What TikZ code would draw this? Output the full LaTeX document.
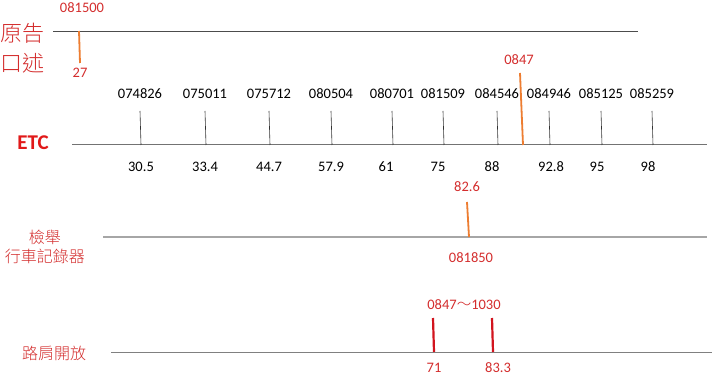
\documentclass[tikz,border=0pt]{standalone}
\usepackage{fontspec}
\setmainfont{Carlito}
\newfontfamily\cjk{Noto Sans CJK TC Light}
\definecolor{lblred}{RGB}{212,45,45}
\definecolor{etcred}{RGB}{225,25,25}
\definecolor{orng}{RGB}{237,125,49}
\definecolor{tickred}{RGB}{210,20,30}
\begin{document}
\begin{tikzpicture}[x=1pt,y=-1pt,
  num/.style={inner sep=0pt,font=\fontsize{14.5}{15}\selectfont},
  rnum/.style={num,text=lblred},
  cjklbl/.style={inner sep=0pt,text=lblred,align=center},
  axis/.style={line width=1pt,draw=black!55},
  tickln/.style={line width=0.6pt,draw=black!80},
  otick/.style={line width=1.8pt,draw=orng},
  rtick/.style={line width=2.2pt,draw=tickred}]
\useasboundingbox (0,0) rectangle (720,382);
\fill[white] (0,0) rectangle (720,382);

% Row 1
\node[cjklbl,font=\cjk\fontsize{22}{30}\selectfont] (r1lbl) at (23,48) {原告\\口述};
\coordinate (r1a) at (53,32);
\coordinate (r1b) at (638,32);
\draw[line width=1pt,draw=black!70] (r1a) -- (r1b);
\node[rnum] (r1top) at (82,8) {081500};
\node[rnum] (r1bot) at (80,73) {27};
\coordinate (r1t1) at (79,31);
\coordinate (r1t2) at (80,63);
\draw[otick] (r1t1) -- (r1t2);

% Row 2 ETC
\node[inner sep=0pt,text=etcred,font=\fontsize{21}{22}\selectfont\bfseries] (etc) at (33,143) {ETC};
\coordinate (e1) at (72,145);
\coordinate (e2) at (707,145);
\draw[axis] (e1) -- (e2);
\foreach \i/\x/\t/\v/\b in {1/140/074826/30.5/141,2/205/075011/33.4/205,3/269/075712/44.7/269,4/331/080504/57.9/331,5/392/080701/61/386,6/443/081509/75/438,7/497/084546/88/492,8/549/084946/92.8/551,9/601/085125/95/597,10/652/085259/98/648}{
  \node[num] (et\i) at (\x,94) {\t};
  \node[num] (eb\i) at (\b,167) {\v};
  \coordinate (ea\i) at (\x,111);
  \coordinate (ez\i) at (\x+1,145);
  \draw[tickln] (ea\i) -- (ez\i);
}
\node[rnum] (e0847) at (519,60) {0847};
\coordinate (eo1) at (520,73);
\coordinate (eo2) at (523,145);
\draw[otick] (eo1) -- (eo2);

% Row 3
\node[cjklbl,font=\cjk\fontsize{16}{19}\selectfont] (r3lbl) at (45,247) {檢舉\\行車記錄器};
\coordinate (r3a) at (103,237);
\coordinate (r3b) at (707,237);
\draw[line width=1.4pt,draw=black!35] (r3a) -- (r3b);
\node[rnum] (r3top) at (467,187) {82.6};
\node[rnum] (r3bot) at (471,258) {081850};
\coordinate (r3t1) at (467,202);
\coordinate (r3t2) at (469,237);
\draw[otick] (r3t1) -- (r3t2);

% Row 4
\node[cjklbl,font=\cjk\fontsize{16}{19}\selectfont] (r4lbl) at (54,353) {路肩開放};
\coordinate (r4a) at (111,352);
\coordinate (r4b) at (712,352);
\draw[line width=1pt,draw=black!50] (r4a) -- (r4b);
\node[rnum] (r4top) at (464,305) {0847{\cjk ～}1030};
\node[rnum] (r4b1) at (434,368) {71};
\node[rnum] (r4b2) at (498,368) {83.3};
\coordinate (r4t1) at (433,318);
\coordinate (r4t2) at (434,352);
\coordinate (r4t3) at (492,318);
\coordinate (r4t4) at (493,352);
\draw[rtick] (r4t1) -- (r4t2);
\draw[rtick] (r4t3) -- (r4t4);
\end{tikzpicture}
\end{document}
